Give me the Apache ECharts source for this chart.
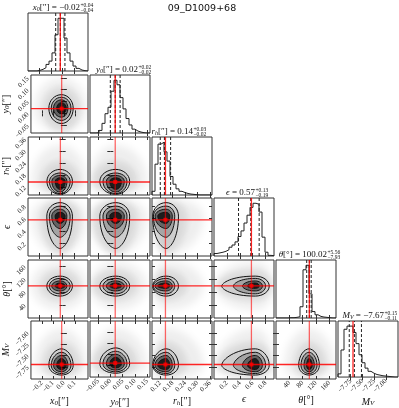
<!DOCTYPE html>
<html><head><meta charset="utf-8">
<script src="https://cdn.jsdelivr.net/npm/echarts@6/dist/echarts.min.js"></script>
<style>html,body{margin:0;padding:0;background:#fff}#c{width:399px;height:408px}</style>
</head><body><div id="c"></div><script>
// ---------------- data ----------------
const paramKeys = ['x0', 'y0', 'rh', 'eps', 'theta', 'MV'];
const axisMin = [-0.30, -0.083, 0.08, 0.0, 0, -8.02];
const axisMax = [0.22, 0.162, 0.37, 0.93, 180, -6.74];
const tickValues = [
  [-0.2, -0.1, 0.0, 0.1],
  [-0.05, 0.00, 0.05, 0.10, 0.15],
  [0.12, 0.18, 0.24, 0.30, 0.36],
  [0.2, 0.4, 0.6, 0.8],
  [40, 80, 120, 160],
  [-7.75, -7.50, -7.25, -7.00]
];
const tickDecimals = [1, 2, 2, 1, 0, 2];
const truthValues = [-0.02, 0.02, 0.145, 0.58, 100, -7.70];
const quantileValues = [
  [-0.06, -0.02, 0.02],
  [0.00, 0.02, 0.04],
  [0.12, 0.14, 0.17],
  [0.38, 0.57, 0.70],
  [92.09, 100.02, 105.58],
  [-7.78, -7.67, -7.52]
];
const titleValues = ['−0.02', '0.02', '0.14', '0.57', '100.02', '−7.67'];
const titlePlus = ['+0.04', '+0.02', '+0.03', '+0.13', '+5.56', '+0.15'];
const titleMinus = ['−0.04', '−0.02', '−0.02', '−0.19', '−7.93', '−0.11'];

// histogram counts (20 bins across each axis range)
const histX0 = [0, 0, 0, 2, 5, 10, 20, 30, 55, 110, 160, 160, 100, 55, 30, 15, 8, 3, 1, 0];
const histY0 = [0, 0, 1, 8, 30, 60, 80, 130, 164, 150, 110, 75, 45, 25, 12, 6, 3, 1, 0, 0];
const histRh = [12, 100, 165, 171, 140, 110, 60, 35, 20, 12, 8, 5, 3, 2, 1, 0, 0, 0, 0, 0];
const histEps = [8, 10, 12, 15, 20, 28, 35, 45, 62, 80, 105, 130, 155, 168, 165, 140, 60, 12, 2, 1];
const histTheta = [0, 0, 0, 0, 1, 1, 2, 4, 35, 150, 164, 75, 20, 10, 5, 3, 2, 1, 0, 0];
const histMV = [10, 85, 150, 160, 160, 140, 105, 70, 45, 28, 18, 12, 8, 6, 4, 3, 2, 1, 0, 0];

// 2-D contour extents per parameter (outer level -> inner level)
const contourCenter = [-0.022, 0.022, 0.148, 0.64, 99, -7.72];
const contourLo = [
  [-0.137, -0.115, -0.094, -0.065],
  [-0.043, -0.030, -0.016, -0.002],
  [0.0835, 0.087, 0.095, 0.108],
  [0.12, 0.30, 0.44, 0.52],
  [68, 75, 84, 92],
  [-7.933, -7.90, -7.86, -7.81]
];
const contourHi = [
  [0.085, 0.065, 0.037, 0.022],
  [0.079, 0.068, 0.057, 0.045],
  [0.208, 0.19, 0.178, 0.166],
  [0.856, 0.80, 0.75, 0.70],
  [130, 123, 115, 108.6],
  [-7.354, -7.43, -7.50, -7.57]
];
// extent of the scattered sample cloud
const hazeInLo = [-0.19, -0.075, 0.085, 0.03, 55, -7.97];
const hazeInHi = [0.15, 0.11, 0.25, 0.90, 150, -7.20];
const hazeOutLo = [-0.27, -0.083, 0.08, 0.0, 25, -8.02];
const hazeOutHi = [0.21, 0.15, 0.33, 0.93, 175, -6.90];

// ---------------- layout / style ----------------
const SERIF = 'Liberation Serif';
const colLeft = [28, 90, 152, 214, 276, 338];
const rowTop = [13, 75, 137, 198, 260, 321];
const PW = 60, PH = 58;
const titleAnchorX = [80, 138, 193, 255, 327, 384];
const K0 = 0.5523;
const tipLo = [K0, K0, K0, 0.30, K0, K0];
const tipHi = [K0, K0, 0.50, K0, K0, 0.42];
const shLo = [K0, K0, K0, 0.72, K0, K0];
const shHi = [K0, K0, 0.60, K0, K0, 0.62];
const levelFill = ['rgba(0,0,0,0.05)', 'rgba(0,0,0,0.2)', 'rgba(0,0,0,0.4)', 'rgba(0,0,0,0.72)'];
const SHIFT = 3000;

const axisNames = [
  '{i|x}{s|0}[″]', '{i|y}{s|0}[″]', '{i|r}{s|h}[″]', '{i|ϵ}', '{i|θ}[°]', '{i|M}{s|V}'
];
const titleNames = [
  '{i|x}{s|0}[″] = ', '{i|y}{s|0}[″] = ', '{i|r}{s|h}[″] = ', '{i|ϵ} = ', '{i|θ}[°] = ', '{i|M}{s|V} = '
];
const nameRich = {
  i: {fontStyle: 'italic', fontFamily: SERIF, fontSize: 10, color: '#111'},
  s: {fontStyle: 'italic', fontFamily: SERIF, fontSize: 7, color: '#111', verticalAlign: 'bottom'}
};
const titleRich = {
  i: {fontStyle: 'italic', fontFamily: SERIF, fontSize: 9, color: '#111'},
  s: {fontStyle: 'italic', fontFamily: SERIF, fontSize: 6, color: '#111', verticalAlign: 'bottom'},
  n: {fontFamily: SERIF, fontSize: 9, color: '#111'}
};

const hists = [histX0, histY0, histRh, histEps, histTheta, histMV];

function fmt(p) {
  return function (v) { return Number(v).toFixed(tickDecimals[p]).replace('-', '−'); };
}
function binEdges(p) {
  const e = [];
  for (let k = 0; k <= 20; k++) e.push(axisMin[p] + (axisMax[p] - axisMin[p]) * k / 20);
  return e;
}
function stepData(p) {
  const e = binEdges(p), c = hists[p];
  const d = [[e[0], 0]];
  for (let k = 0; k < 20; k++) d.push([e[k], c[k]]);
  d.push([e[20], c[19]]);
  d.push([e[20], 0]);
  return d;
}
function valAxis(g, p, pos, showLabels, name, isX) {
  const a = {
    gridIndex: g, type: 'value', min: axisMin[p], max: axisMax[p], position: pos,
    axisLine: {show: false}, splitLine: {show: false},
    axisTick: {show: true, inside: true, length: 3, lineStyle: {color: '#333', width: 1}, customValues: tickValues[p]},
    axisLabel: {show: showLabels, customValues: tickValues[p], rotate: 45, margin: 3, fontSize: 7,
      fontFamily: SERIF, color: '#222', formatter: fmt(p), interval: 0, hideOverlap: false},
    name: name || '', nameLocation: 'middle', nameGap: isX ? 15 : 16,
    nameTextStyle: {fontFamily: SERIF, fontSize: 10, color: '#111', rich: nameRich}
  };
  if (!isX) a.nameRotate = 90;
  return a;
}
function egg(api, px, py, cx, cy, xl, xr, yb, yt, dx) {
  dx = dx || 0;
  const L = api.coord([xl, cy]), R = api.coord([xr, cy]);
  const T = api.coord([cx, yt]), B = api.coord([cx, yb]);
  [L, R, T, B].forEach(P => { P[0] += dx; });
  const aLT_x = tipLo[px] + shHi[py] - K0, aLT_y = tipHi[py] + shLo[px] - K0;
  const aTR_x = tipHi[px] + shHi[py] - K0, aTR_y = tipHi[py] + shHi[px] - K0;
  const aRB_x = tipHi[px] + shLo[py] - K0, aRB_y = tipLo[py] + shHi[px] - K0;
  const aBL_x = tipLo[px] + shLo[py] - K0, aBL_y = tipLo[py] + shLo[px] - K0;
  const f = v => v.toFixed(2);
  let s = 'M' + f(L[0]) + ' ' + f(L[1]);
  s += ' C' + f(L[0]) + ' ' + f(L[1] + aLT_x * (T[1] - L[1])) + ' ' + f(T[0] + aLT_y * (L[0] - T[0])) + ' ' + f(T[1]) + ' ' + f(T[0]) + ' ' + f(T[1]);
  s += ' C' + f(T[0] + aTR_y * (R[0] - T[0])) + ' ' + f(T[1]) + ' ' + f(R[0]) + ' ' + f(R[1] + aTR_x * (T[1] - R[1])) + ' ' + f(R[0]) + ' ' + f(R[1]);
  s += ' C' + f(R[0]) + ' ' + f(R[1] + aRB_x * (B[1] - R[1])) + ' ' + f(B[0] + aRB_y * (R[0] - B[0])) + ' ' + f(B[1]) + ' ' + f(B[0]) + ' ' + f(B[1]);
  s += ' C' + f(B[0] + aBL_y * (L[0] - B[0])) + ' ' + f(B[1]) + ' ' + f(L[0]) + ' ' + f(L[1] + aBL_x * (B[1] - L[1])) + ' ' + f(L[0]) + ' ' + f(L[1]) + ' Z';
  return s;
}
function contourRenderer(px, py) {
  return function (params, api) {
    const cx = contourCenter[px], cy = contourCenter[py];
    const children = [];
    // soft sample cloud: shapes drawn off-canvas, only their blurred shadow lands in the panel
    children.push({type: 'path', shape: {pathData: egg(api, px, py, cx, cy, hazeOutLo[px], hazeOutHi[px], hazeOutLo[py], hazeOutHi[py], -SHIFT)},
      style: {fill: '#000', stroke: null, shadowBlur: 9, shadowColor: 'rgba(0,0,0,0.07)', shadowOffsetX: SHIFT, shadowOffsetY: 0}});
    children.push({type: 'path', shape: {pathData: egg(api, px, py, cx, cy, hazeInLo[px], hazeInHi[px], hazeInLo[py], hazeInHi[py], -SHIFT)},
      style: {fill: '#000', stroke: null, shadowBlur: 7, shadowColor: 'rgba(0,0,0,0.09)', shadowOffsetX: SHIFT, shadowOffsetY: 0}});
    for (let l = 0; l < 4; l++) {
      children.push({type: 'path', shape: {pathData: egg(api, px, py, cx, cy, contourLo[px][l], contourHi[px][l], contourLo[py][l], contourHi[py][l])},
        style: {fill: levelFill[l], stroke: '#111', lineWidth: 1}});
    }
    return {type: 'group', children: children};
  };
}

const option = {animation: false, grid: [], xAxis: [], yAxis: [], series: [], graphic: []};
let g = 0;
for (let i = 0; i < 6; i++) {
  for (let j = 0; j <= i; j++) {
    option.grid.push({left: colLeft[j], top: rowTop[i], width: PW, height: PH, show: true, borderColor: '#333', borderWidth: 1});
    const bottomRow = i === 5, leftCol = j === 0;
    option.xAxis.push(valAxis(g, j, 'bottom', bottomRow, bottomRow ? axisNames[j] : '', true));
    option.xAxis.push(valAxis(g, j, 'top', false, '', true));
    if (i === j) {
      const yMax = Math.max.apply(null, hists[j]) * 1.1;
      const hy = pos => ({gridIndex: g, type: 'value', min: 0, max: yMax, position: pos, axisLine: {show: false},
        axisTick: {show: false}, axisLabel: {show: false}, splitLine: {show: false}});
      option.yAxis.push(hy('left'));
      option.yAxis.push(hy('right'));
      option.series.push({type: 'line', xAxisIndex: 2 * g, yAxisIndex: 2 * g, step: 'end', data: stepData(j),
        showSymbol: false, symbol: 'none', lineStyle: {color: '#222', width: 1}, z: 2, silent: true});
      quantileValues[j].forEach(q => {
        option.series.push({type: 'line', xAxisIndex: 2 * g, yAxisIndex: 2 * g, data: [[q, 0], [q, yMax]],
          symbol: 'none', lineStyle: {color: '#222', width: 1, type: [3, 2]}, z: 3, silent: true});
      });
      option.series.push({type: 'line', xAxisIndex: 2 * g, yAxisIndex: 2 * g, data: [[truthValues[j], 0], [truthValues[j], yMax]],
        symbol: 'none', lineStyle: {color: 'rgba(255,0,0,0.85)', width: 1.3}, z: 4, silent: true});
      const yc = rowTop[i] - 5, ax = titleAnchorX[j];
      option.graphic.push({type: 'text', x: ax, y: yc, silent: true, style: {
        text: titleNames[j] + '{n|' + titleValues[j] + '}', align: 'right', textAlign: 'right', verticalAlign: 'middle', textVerticalAlign: 'middle',
        fontFamily: SERIF, fontSize: 9, fill: '#111', rich: titleRich}});
      option.graphic.push({type: 'text', x: ax + 0.5, y: yc - 2.6, silent: true, style: {
        text: titlePlus[j], align: 'left', textAlign: 'left', verticalAlign: 'middle', textVerticalAlign: 'middle',
        fontFamily: SERIF, fontSize: 5.5, fill: '#111'}});
      option.graphic.push({type: 'text', x: ax + 0.5, y: yc + 3, silent: true, style: {
        text: titleMinus[j], align: 'left', textAlign: 'left', verticalAlign: 'middle', textVerticalAlign: 'middle',
        fontFamily: SERIF, fontSize: 5.5, fill: '#111'}});
    } else {
      option.yAxis.push(valAxis(g, i, 'left', leftCol, leftCol ? axisNames[i] : '', false));
      option.yAxis.push(valAxis(g, i, 'right', false, '', false));
      option.series.push({type: 'custom', xAxisIndex: 2 * g, yAxisIndex: 2 * g, clip: true, silent: true, z: 2,
        data: [[contourCenter[j], contourCenter[i]]], renderItem: contourRenderer(j, i)});
      option.series.push({type: 'line', xAxisIndex: 2 * g, yAxisIndex: 2 * g,
        data: [[truthValues[j], axisMin[i]], [truthValues[j], axisMax[i]]],
        symbol: 'none', lineStyle: {color: 'rgba(255,0,0,0.6)', width: 1.3}, z: 4, silent: true});
      option.series.push({type: 'line', xAxisIndex: 2 * g, yAxisIndex: 2 * g,
        data: [[axisMin[j], truthValues[i]], [axisMax[j], truthValues[i]]],
        symbol: 'none', lineStyle: {color: 'rgba(255,0,0,0.85)', width: 1.3}, z: 4, silent: true});
      option.series.push({type: 'scatter', xAxisIndex: 2 * g, yAxisIndex: 2 * g,
        data: [[truthValues[j], truthValues[i]]], symbol: 'rect', symbolSize: 4,
        itemStyle: {color: '#ff0000'}, z: 5, silent: true});
    }
    g++;
  }
}
option.graphic.push({type: 'text', x: 202, y: 9, silent: true, style: {
  text: '09_D1009+68', align: 'center', textAlign: 'center', verticalAlign: 'middle', textVerticalAlign: 'middle',
  fontFamily: 'DejaVu Sans', fontSize: 9.5, fill: '#111'}});

const chart = echarts.init(document.getElementById('c'), null, {renderer: 'canvas'});
chart.setOption(option);
</script></body></html>
